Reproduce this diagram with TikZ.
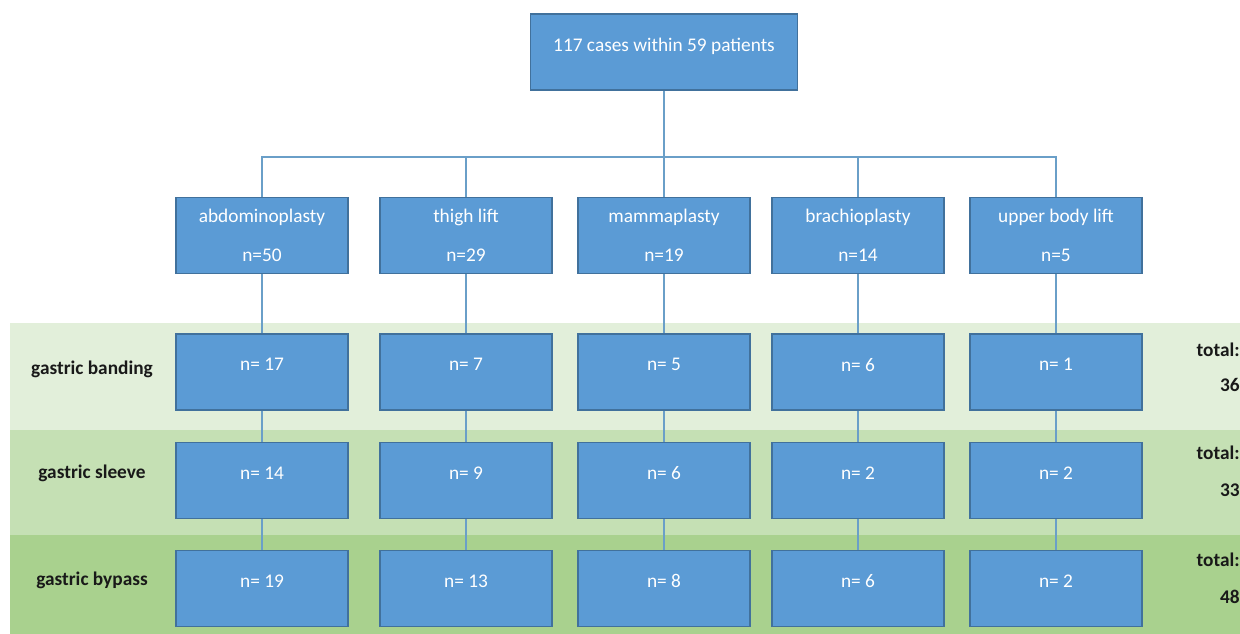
\documentclass[tikz,border=0pt]{standalone}
\usepackage{fontspec}
\setmainfont{Carlito}
\usepackage{xcolor}
\usepackage{tikz}
\usetikzlibrary{calc, backgrounds, positioning}
\definecolor{boxblue}{HTML}{5B9BD5}
\definecolor{boxedge}{HTML}{41719C}
\definecolor{linkblue}{HTML}{6A9FC8}
\definecolor{bandlight}{HTML}{E2EFDA}
\definecolor{bandmid}{HTML}{C5E0B4}
\definecolor{banddark}{HTML}{A9D18E}
\tikzset{
    boxnode/.style = {draw=boxedge, fill=boxblue, rectangle, line width=0.8pt, text=white,
      minimum width=3.44cm, minimum height=1.52cm, inner sep=0em, node distance=0em,
      font=\fontsize{11}{13.2}\selectfont},
    valnode/.style = {boxnode, text depth=0.3cm},
    textnode/.style = {draw=none, fill=none, rectangle, inner sep=0em, node distance=0em,
      text=black!90, font=\fontsize{11}{13.2}\selectfont\bfseries},
    connect/.style = {linkblue, line width=0.75pt},
    every text node part/.style={align=center}
}

\begin{document}
\begin{tikzpicture}
    \useasboundingbox (0,0) rectangle (24.8,12.68);

    % bands for the three kinds of surgery
    \fill [bandlight] (0.2,4.08) rectangle (24.8,6.22);
    \fill [bandmid] (0.2,1.98) rectangle (24.8,4.08);
    \fill [banddark] (0.2,0) rectangle (24.8,1.98);

    \node [name=cases, valnode, minimum width=5.34cm] at (13.28,11.64) {117 cases within 59 patients};
    \coordinate (bus) at (0,9.54);

    \node [name=abdo, boxnode, below of = cases, xshift=-8.04cm, yshift=-3.67cm] {abdominoplasty\\[9pt]n=50};
    \node [name=thigh, boxnode, below of = cases, xshift=-3.96cm, yshift=-3.67cm] {thigh lift\\[9pt]n=29};
    \node [name=mamma, boxnode, below of = cases, yshift=-3.67cm] {mammaplasty\\[9pt]n=19};
    \node [name=brachio, boxnode, below of = cases, xshift=3.88cm, yshift=-3.67cm] {brachioplasty\\[9pt]n=14};
    \node [name=upper, boxnode, below of = cases, xshift=7.84cm, yshift=-3.67cm] {upper body lift\\[9pt]n=5};

    % gastric banding
    \node [name=band1, valnode, below of = abdo, yshift=-2.73cm] {n= 17};
    \node [name=band2, valnode, below of = thigh, yshift=-2.73cm] {n= 7};
    \node [name=band3, valnode, below of = mamma, yshift=-2.73cm] {n= 5};
    \node [name=band4, valnode, below of = brachio, yshift=-2.73cm] {n= 6};
    \node [name=band5, valnode, below of = upper, yshift=-2.73cm] {n= 1};

    % gastric sleeve
    \node [name=sleeve1, valnode, below of = abdo, yshift=-4.9cm] {n= 14};
    \node [name=sleeve2, valnode, below of = thigh, yshift=-4.9cm] {n= 9};
    \node [name=sleeve3, valnode, below of = mamma, yshift=-4.9cm] {n= 6};
    \node [name=sleeve4, valnode, below of = brachio, yshift=-4.9cm] {n= 2};
    \node [name=sleeve5, valnode, below of = upper, yshift=-4.9cm] {n= 2};

    % gastric bypass
    \node [name=bypass1, valnode, below of = abdo, yshift=-7.06cm] {n= 19};
    \node [name=bypass2, valnode, below of = thigh, yshift=-7.06cm] {n= 13};
    \node [name=bypass3, valnode, below of = mamma, yshift=-7.06cm] {n= 8};
    \node [name=bypass4, valnode, below of = brachio, yshift=-7.06cm] {n= 6};
    \node [name=bypass5, valnode, below of = upper, yshift=-7.06cm] {n= 2};

    \node [name=bandlbl, textnode, left of = band1, xshift=-3.4cm, yshift=0.06cm] {gastric banding};
    \node [name=sleevelbl, textnode, left of = sleeve1, xshift=-3.4cm, yshift=0.14cm] {gastric sleeve};
    \node [name=bypasslbl, textnode, left of = bypass1, xshift=-3.4cm, yshift=0.16cm] {gastric bypass};

    \node [name=bandtot, textnode, right of = band5, xshift=3.68cm, yshift=0.44cm, anchor=east] {total:};
    \node [name=bandsum, textnode, right of = band5, xshift=3.68cm, yshift=-0.26cm, anchor=east] {36};
    \node [name=sleevetot, textnode, right of = sleeve5, xshift=3.68cm, yshift=0.55cm, anchor=east] {total:};
    \node [name=sleevesum, textnode, right of = sleeve5, xshift=3.68cm, yshift=-0.19cm, anchor=east] {33};
    \node [name=bypasstot, textnode, right of = bypass5, xshift=3.68cm, yshift=0.57cm, anchor=east] {total:};
    \node [name=bypasssum, textnode, right of = bypass5, xshift=3.68cm, yshift=-0.17cm, anchor=east] {48};

    \draw [connect] (cases.south) -- (cases.south |- bus);
    \draw [connect] (abdo.north) |- (bus -| upper.north) -- (upper.north);
    \draw [connect] (thigh.north) -- (thigh.north |- bus);
    \draw [connect] (mamma.north) -- (mamma.north |- bus);
    \draw [connect] (brachio.north) -- (brachio.north |- bus);

    \draw [connect] (abdo) -- (band1) -- (sleeve1) -- (bypass1);
    \draw [connect] (thigh) -- (band2) -- (sleeve2) -- (bypass2);
    \draw [connect] (mamma) -- (band3) -- (sleeve3) -- (bypass3);
    \draw [connect] (brachio) -- (band4) -- (sleeve4) -- (bypass4);
    \draw [connect] (upper) -- (band5) -- (sleeve5) -- (bypass5);
\end{tikzpicture}
\end{document}
